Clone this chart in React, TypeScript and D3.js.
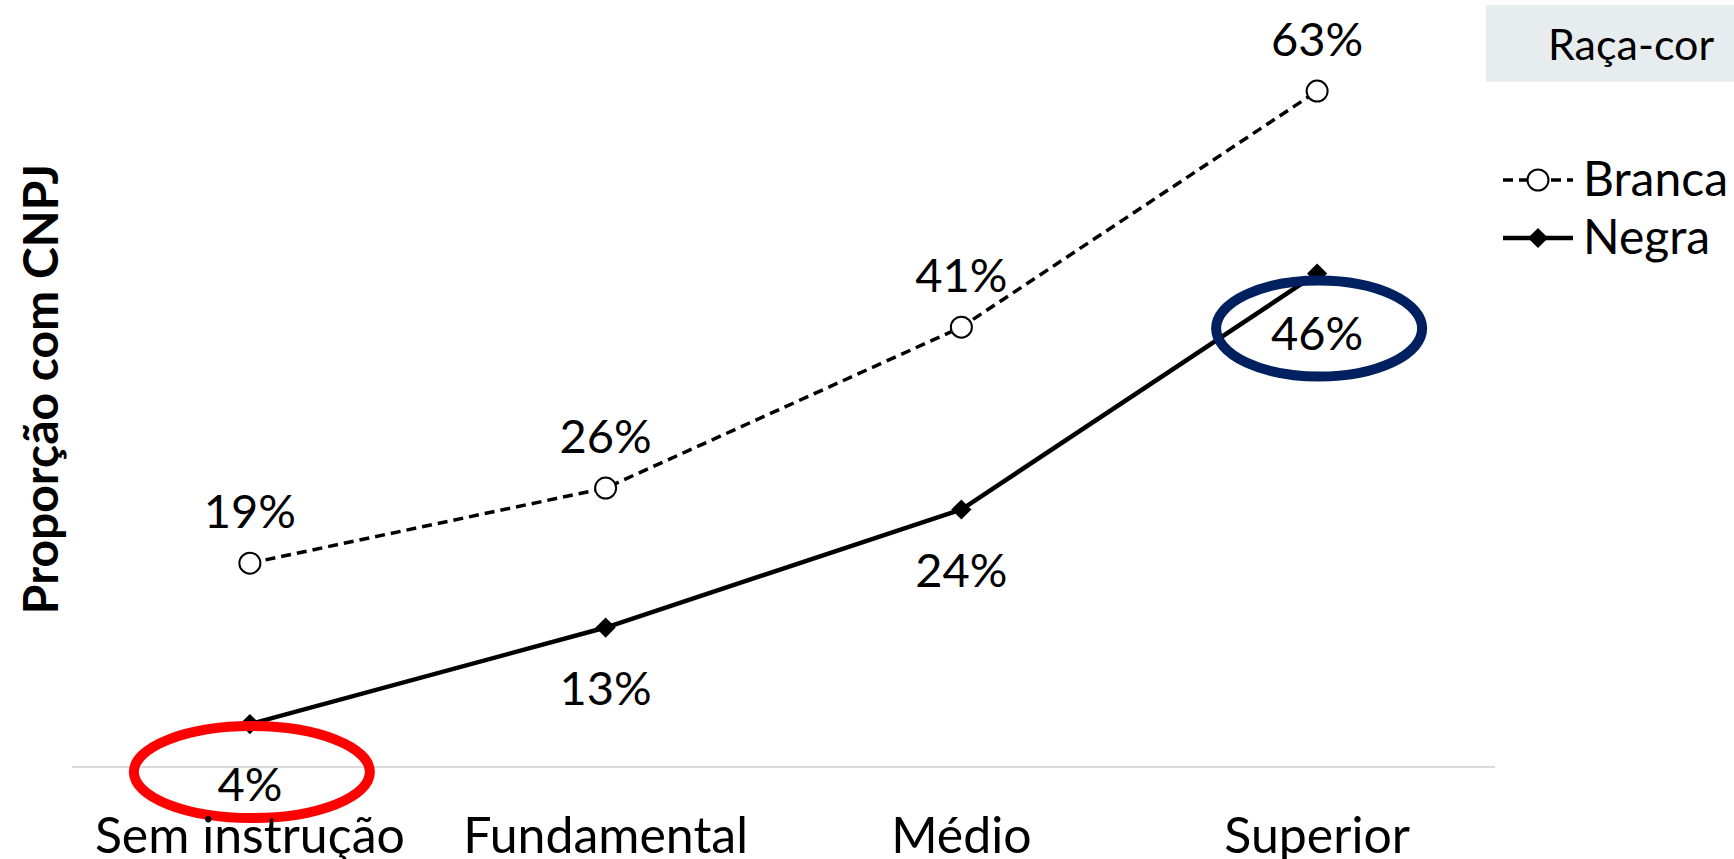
import React from "react";
import * as d3 from "d3";

const categories = ["Sem instrução", "Fundamental", "Médio", "Superior"];
const brancaValues = [0.19, 0.26, 0.41, 0.63];
const negraValues = [0.04, 0.13, 0.24, 0.46];
const seriesNames = ["Branca", "Negra"];
const legendTitle = "Raça-cor";
const yAxisTitle = "Proporção com CNPJ";
const highlighted = [
  { series: "Negra", index: 0, color: "#ff0000" },
  { series: "Negra", index: 3, color: "#002060" },
];

const W = 1734;
const H = 859;
const FONT = "Lato, 'Open Sans', sans-serif";

export default function App() {
  const x = d3
    .scalePoint<string>()
    .domain(categories)
    .range([72, 1495])
    .padding(0.5);
  const y = d3.scaleLinear().domain([0, 0.7]).range([767, 16]);
  const line = d3
    .line<number>()
    .x((_, i) => x(categories[i]) as number)
    .y((d) => y(d));
  const pct = d3.format(".0%");
  const diamond = d3.symbol().type(d3.symbolDiamond2).size(260)();
  const seriesMap: Record<string, number[]> = { Negra: negraValues, Branca: brancaValues };

  return (
    <svg
      width={W}
      height={H}
      style={{ position: "absolute", left: 0, top: 0, background: "#fff" }}
      fontFamily={FONT}
    >
      {/* baseline gridline */}
      <line x1={72} x2={1495} y1={y(0)} y2={y(0)} stroke="#d9d9d9" strokeWidth={2} />

      {/* Branca series */}
      <path
        d={line(brancaValues) || ""}
        fill="none"
        stroke="#000"
        strokeWidth={3.5}
        strokeDasharray="10 6"
      />
      {/* Negra series */}
      <path d={line(negraValues) || ""} fill="none" stroke="#000" strokeWidth={4.5} />

      {brancaValues.map((v, i) => (
        <g key={"b" + i}>
          <circle
            cx={x(categories[i])}
            cy={y(v)}
            r={10.5}
            fill="#fff"
            stroke="#000"
            strokeWidth={2}
          />
          <text
            x={x(categories[i])}
            y={y(v) - 35}
            textAnchor="middle"
            fontSize={47}
            fill="#000"
          >
            {pct(v)}
          </text>
        </g>
      ))}
      {negraValues.map((v, i) => (
        <g key={"n" + i}>
          <path
            d={diamond || ""}
            transform={`translate(${x(categories[i])},${y(v)})`}
            fill="#000"
          />
          <text
            x={x(categories[i])}
            y={y(v) + 77}
            textAnchor="middle"
            fontSize={47}
            fill="#000"
          >
            {pct(v)}
          </text>
        </g>
      ))}

      {/* highlight ellipses */}
      {highlighted.map((h, k) => {
        const v = seriesMap[h.series][h.index];
        const cx = x(categories[h.index]) as number;
        const cy = y(v) + (k === 0 ? 48 : 55);
        return (
          <ellipse
            key={"e" + k}
            cx={cx + 2}
            cy={cy}
            rx={k === 0 ? 118 : 103}
            ry={k === 0 ? 46 : 48}
            fill="none"
            stroke={h.color}
            strokeWidth={10}
          />
        );
      })}

      {/* category labels */}
      {categories.map((c) => (
        <text
          key={c}
          x={x(c)}
          y={853}
          textAnchor="middle"
          fontSize={50}
          fill="#000"
        >
          {c}
        </text>
      ))}

      {/* y axis title */}
      <text
        transform={`translate(58,${389}) rotate(-90)`}
        textAnchor="middle"
        fontSize={48}
        fontWeight="bold"
        fill="#000"
      >
        {yAxisTitle}
      </text>

      {/* legend */}
      <rect x={1486} y={5} width={W - 1486} height={77} fill="#e7ecee" />
      <text x={1548} y={60} fontSize={43} fill="#000">
        {legendTitle}
      </text>
      {seriesNames.map((s, i) => {
        const ly = i === 0 ? 180 : 238;
        return (
          <g key={s}>
            <line
              x1={1503}
              x2={1573}
              y1={ly}
              y2={ly}
              stroke="#000"
              strokeWidth={i === 0 ? 3.5 : 4.5}
              strokeDasharray={i === 0 ? "10 6" : undefined}
            />
            {i === 0 ? (
              <circle cx={1538} cy={ly} r={10.5} fill="#fff" stroke="#000" strokeWidth={2} />
            ) : (
              <path d={diamond || ""} transform={`translate(1538,${ly})`} fill="#000" />
            )}
            <text x={1583} y={ly + 16} fontSize={48} fill="#000">
              {s}
            </text>
          </g>
        );
      })}
    </svg>
  );
}
